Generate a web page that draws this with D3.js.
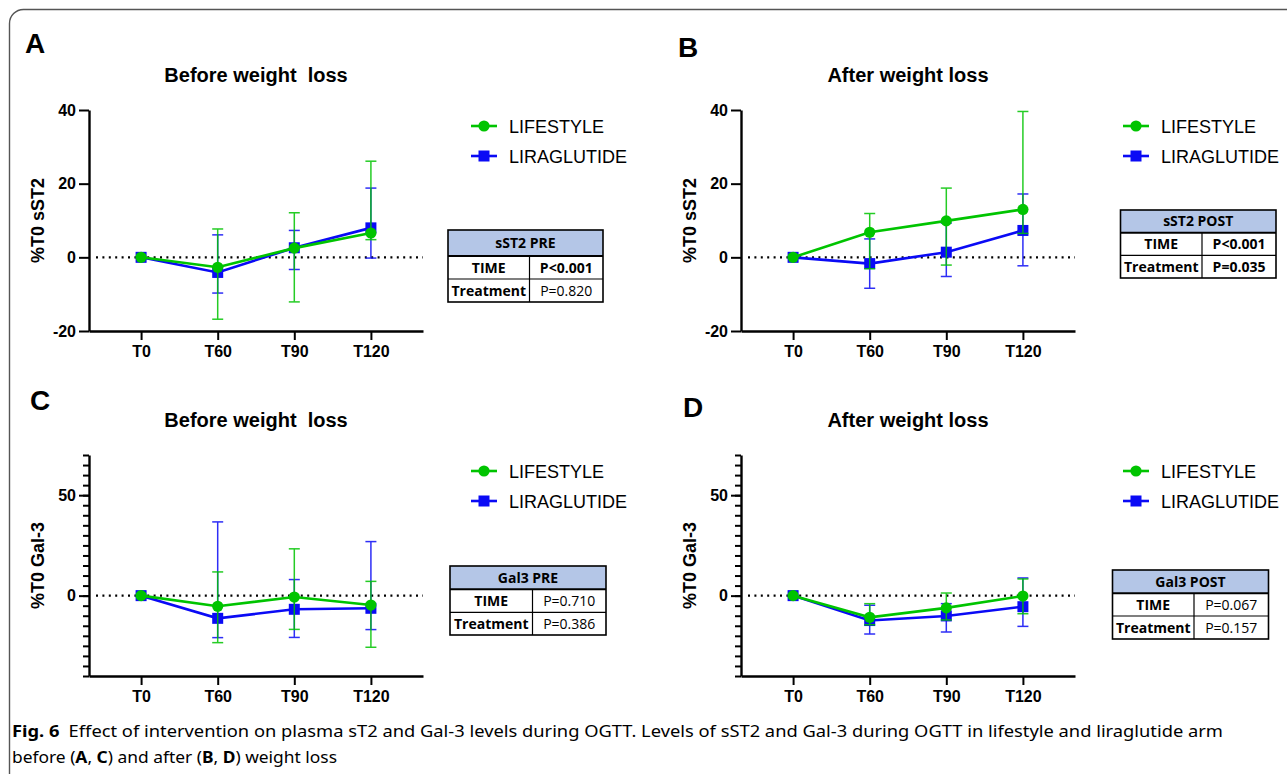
<!DOCTYPE html>
<html>
<head>
<meta charset="utf-8">
<script src="https://cdnjs.cloudflare.com/ajax/libs/d3/7.8.5/d3.min.js"></script>
<style>
  body { margin: 0; background: #fff; }
  svg { display: block; }
</style>
</head>
<body>
<svg id="fig" width="1287" height="774"></svg>
<script>
"use strict";

// ---- data ----
var timepoints = ["T0", "T60", "T90", "T120"];
var seriesNames = ["LIFESTYLE", "LIRAGLUTIDE"];

// A: sST2 before weight loss (% of T0)
var sst2PreLife     = [0, -2.7, 2.5, 6.6];
var sst2PreLifeHi   = [0, 7.7, 12.1, 26.1];
var sst2PreLifeLo   = [0, -16.8, -12.1, 4.8];
var sst2PreLira     = [0, -4.1, 2.6, 8.0];
var sst2PreLiraHi   = [0, 6.1, 7.3, 18.8];
var sst2PreLiraLo   = [0, -9.7, -3.3, -0.2];

// B: sST2 after weight loss
var sst2PostLife    = [0, 6.8, 9.9, 13.0];
var sst2PostLifeHi  = [0, 11.9, 18.8, 39.6];
var sst2PostLifeLo  = [0, -3.1, -2.1, 6.5];
var sst2PostLira    = [0, -1.7, 1.4, 7.3];
var sst2PostLiraHi  = [0, 5.0, 9.3, 17.2];
var sst2PostLiraLo  = [0, -8.4, -5.2, -2.3];

// C: Gal-3 before weight loss
var gal3PreLife     = [0, -5.3, -0.7, -4.7];
var gal3PreLifeHi   = [0, 11.8, 23.3, 7.1];
var gal3PreLifeLo   = [0, -23.4, -16.8, -25.7];
var gal3PreLira     = [0, -11.3, -6.8, -6.3];
var gal3PreLiraHi   = [0, 36.7, 8.0, 26.9];
var gal3PreLiraLo   = [0, -20.9, -20.8, -16.9];

// D: Gal-3 after weight loss
var gal3PostLife    = [0, -10.8, -6.1, -0.2];
var gal3PostLifeHi  = [0, -4.0, 1.3, 8.3];
var gal3PostLifeLo  = [0, -14.5, -12.1, -9.0];
var gal3PostLira    = [0, -12.4, -10.1, -5.5];
var gal3PostLiraHi  = [0, -4.8, -4.0, 8.8];
var gal3PostLiraLo  = [0, -19.1, -18.1, -15.3];

var sst2Ticks = [-20, 0, 20, 40];
var gal3Ticks = [0, 50];

// stats tables: [row label, p value, bold?]
var sst2PreStats  = [["TIME", "P<0.001", true], ["Treatment", "P=0.820", false]];
var sst2PostStats = [["TIME", "P<0.001", true], ["Treatment", "P=0.035", true]];
var gal3PreStats  = [["TIME", "P=0.710", false], ["Treatment", "P=0.386", false]];
var gal3PostStats = [["TIME", "P=0.067", false], ["Treatment", "P=0.157", false]];

var colors = ["#00c400", "#0a0af5"];
var font = "'Liberation Sans', Arial, sans-serif";
var tableFont = "'Open Sans', 'Noto Sans', sans-serif";

var svg = d3.select("#fig");

// figure frame (rounded, runs off the right/bottom)
svg.append("rect")
    .attr("x", 9.5).attr("y", 9.5)
    .attr("width", 1320).attr("height", 800)
    .attr("rx", 14)
    .attr("fill", "none")
    .attr("stroke", "#555")
    .attr("stroke-width", 1.4);

function pack(m, hi, lo) {
    return timepoints.map(function(t, i) { return {t: t, v: m[i], hi: hi[i], lo: lo[i]}; });
}

var panels = [
    {letter: "A", lx: 25, ly: 53, dx: 0, dy: 0, title: "Before weight\u00a0 loss", ylab: "%T0 sST2",
     domain: [-20, 40], ticks: sst2Ticks, minor: null,
     series: [pack(sst2PreLife, sst2PreLifeHi, sst2PreLifeLo), pack(sst2PreLira, sst2PreLiraHi, sst2PreLiraLo)],
     table: {name: "sST2 PRE", x: 448, y: 230, w: 155, c: 81.5, rows: [26, 23, 23], stats: sst2PreStats}},
    {letter: "B", lx: 678, ly: 57, dx: 652, dy: 0, title: "After weight loss", ylab: "%T0 sST2",
     domain: [-20, 40], ticks: sst2Ticks, minor: null,
     series: [pack(sst2PostLife, sst2PostLifeHi, sst2PostLifeLo), pack(sst2PostLira, sst2PostLiraHi, sst2PostLiraLo)],
     table: {name: "sST2 POST", x: 1120.5, y: 210, w: 155.5, c: 81.5, rows: [22.7, 22.7, 22.6], stats: sst2PostStats}},
    {letter: "C", lx: 30, ly: 410, dx: 0, dy: 345, title: "Before weight\u00a0 loss", ylab: "%T0 Gal-3",
     domain: [-40, 70], ticks: gal3Ticks, minor: 5,
     series: [pack(gal3PreLife, gal3PreLifeHi, gal3PreLifeLo), pack(gal3PreLira, gal3PreLiraHi, gal3PreLiraLo)],
     table: {name: "Gal3 PRE", x: 450, y: 566, w: 156, c: 82.5, rows: [23.3, 23, 22.7], stats: gal3PreStats}},
    {letter: "D", lx: 683, ly: 417, dx: 652, dy: 345, title: "After weight loss", ylab: "%T0 Gal-3",
     domain: [-40, 70], ticks: gal3Ticks, minor: 5,
     series: [pack(gal3PostLife, gal3PostLifeHi, gal3PostLifeLo), pack(gal3PostLira, gal3PostLiraHi, gal3PostLiraLo)],
     table: {name: "Gal3 POST", x: 1112.5, y: 570, w: 156, c: 81.5, rows: [23.3, 22.7, 23], stats: gal3PostStats}}
];

panels.forEach(function(p) {
    var g = svg.append("g").attr("transform", "translate(" + p.dx + "," + p.dy + ")");

    var x = d3.scalePoint().domain(timepoints).range([89, 423]).padding(0.68);
    var y = d3.scaleLinear().domain(p.domain).range([331, 110]);

    svg.append("text")
        .attr("x", p.lx).attr("y", p.ly)
        .attr("font-family", font).attr("font-weight", "bold").attr("font-size", 28)
        .text(p.letter);

    g.append("text")
        .attr("x", 256).attr("y", 82)
        .attr("text-anchor", "middle")
        .attr("font-family", font).attr("font-weight", "bold").attr("font-size", 20)
        .text(p.title);

    g.append("text")
        .attr("transform", "translate(44,220.5) rotate(-90)")
        .attr("text-anchor", "middle")
        .attr("font-family", font).attr("font-weight", "bold").attr("font-size", 18)
        .text(p.ylab);

    // zero reference
    g.append("line")
        .attr("x1", 96).attr("x2", 423)
        .attr("y1", y(0)).attr("y2", y(0))
        .attr("stroke", "#000").attr("stroke-width", 2.2)
        .attr("stroke-dasharray", "2,4.4");

    if (p.minor) {
        g.append("g")
            .attr("transform", "translate(89,0)")
            .call(d3.axisLeft(y).tickValues(d3.range(p.domain[0], p.domain[1] + 1, p.minor)).tickSize(6).tickSizeOuter(0).tickFormat(""))
            .call(function(a) {
                a.select(".domain").remove();
                a.selectAll("line").attr("stroke-width", 2);
            });
    }

    var yAxis = g.append("g")
        .attr("transform", "translate(89,0)")
        .call(d3.axisLeft(y).tickValues(p.ticks).tickSize(10).tickSizeOuter(0).tickPadding(3)
            .tickFormat(function(d) { return String(d); }));
    var xAxis = g.append("g")
        .attr("transform", "translate(0,331)")
        .call(d3.axisBottom(x).tickSize(9).tickSizeOuter(0).tickPadding(6));

    [yAxis, xAxis].forEach(function(a) {
        a.select(".domain").attr("stroke-width", 2.4);
        a.selectAll(".tick line").attr("stroke-width", 2);
        a.selectAll("text")
            .attr("font-family", font).attr("font-weight", "bold").attr("font-size", 16)
            .attr("fill", "#000");
    });

    var line = d3.line().x(function(d) { return x(d.t); }).y(function(d) { return y(d.v); });

    // draw liraglutide first, lifestyle on top
    [1, 0].forEach(function(k) {
        var data = p.series[k];
        var c = colors[k];
        var eb = g.append("g").attr("stroke", c).attr("stroke-width", 1.5).attr("opacity", 0.85);
        data.filter(function(d) { return d.hi !== d.lo; }).forEach(function(d) {
            var cx = x(d.t);
            eb.append("line").attr("x1", cx).attr("x2", cx).attr("y1", y(d.hi)).attr("y2", y(d.lo));
            eb.append("line").attr("x1", cx - 5.5).attr("x2", cx + 5.5).attr("y1", y(d.hi)).attr("y2", y(d.hi));
            eb.append("line").attr("x1", cx - 5.5).attr("x2", cx + 5.5).attr("y1", y(d.lo)).attr("y2", y(d.lo));
        });
        g.append("path").datum(data)
            .attr("d", line)
            .attr("fill", "none").attr("stroke", c).attr("stroke-width", 2.6);
        if (k === 0) {
            g.selectAll(null).data(data).enter().append("circle")
                .attr("cx", function(d) { return x(d.t); })
                .attr("cy", function(d) { return y(d.v); })
                .attr("r", 5.6).attr("fill", c);
        } else {
            g.selectAll(null).data(data).enter().append("rect")
                .attr("x", function(d) { return x(d.t) - 5.5; })
                .attr("y", function(d) { return y(d.v) - 5.5; })
                .attr("width", 11).attr("height", 11).attr("fill", c);
        }
    });

    // legend
    seriesNames.forEach(function(name, k) {
        var ly = 126 + k * 30;
        var lg = g.append("g");
        lg.append("line").attr("x1", 471).attr("x2", 497).attr("y1", ly).attr("y2", ly)
            .attr("stroke", colors[k]).attr("stroke-width", 2.6);
        if (k === 0) {
            lg.append("circle").attr("cx", 484).attr("cy", ly).attr("r", 5.6).attr("fill", colors[k]);
        } else {
            lg.append("rect").attr("x", 478.5).attr("y", ly - 5.5).attr("width", 11).attr("height", 11).attr("fill", colors[k]);
        }
        lg.append("text").attr("x", 509).attr("y", ly + 6.5)
            .attr("font-family", font).attr("font-size", 18)
            .text(name);
    });

    // stats table
    var t = p.table;
    var tg = svg.append("g");
    var y0 = t.y, y1 = y0 + t.rows[0], y2 = y1 + t.rows[1], y3 = y2 + t.rows[2];
    tg.append("rect").attr("x", t.x).attr("y", y0).attr("width", t.w).attr("height", t.rows[0])
        .attr("fill", "#b4c6e7");
    tg.append("rect").attr("x", t.x).attr("y", y0).attr("width", t.w).attr("height", y3 - y0)
        .attr("fill", "none").attr("stroke", "#000").attr("stroke-width", 1.6);
    tg.append("line").attr("x1", t.x).attr("x2", t.x + t.w).attr("y1", y1).attr("y2", y1)
        .attr("stroke", "#000").attr("stroke-width", 2);
    tg.append("line").attr("x1", t.x).attr("x2", t.x + t.w).attr("y1", y2).attr("y2", y2)
        .attr("stroke", "#000").attr("stroke-width", 1.2);
    tg.append("line").attr("x1", t.x + t.c).attr("x2", t.x + t.c).attr("y1", y1).attr("y2", y3)
        .attr("stroke", "#000").attr("stroke-width", 1.2);
    tg.append("text")
        .attr("x", t.x + t.w / 2).attr("y", (y0 + y1) / 2 + 5)
        .attr("text-anchor", "middle")
        .attr("font-family", tableFont).attr("font-weight", "bold").attr("font-size", 14)
        .text(t.name);
    t.stats.forEach(function(r, i) {
        var mid = i === 0 ? (y1 + y2) / 2 : (y2 + y3) / 2;
        tg.append("text")
            .attr("x", t.x + t.c / 2).attr("y", mid + 5)
            .attr("text-anchor", "middle")
            .attr("font-family", tableFont).attr("font-weight", "bold").attr("font-size", 14)
            .text(r[0]);
        tg.append("text")
            .attr("x", t.x + t.c + (t.w - t.c) / 2).attr("y", mid + 5)
            .attr("text-anchor", "middle")
            .attr("font-family", tableFont).attr("font-weight", r[2] ? "bold" : "normal").attr("font-size", 14)
            .text(r[1]);
    });
});

// caption
var cap1 = svg.append("text")
    .attr("x", 12).attr("y", 737)
    .attr("font-family", "'Noto Sans', sans-serif").attr("font-size", 16.5)
    .attr("textLength", 1211).attr("lengthAdjust", "spacingAndGlyphs");
cap1.append("tspan").attr("font-weight", "bold").text("Fig. 6");
cap1.append("tspan").text("\u2002Effect of intervention on plasma sT2 and Gal-3 levels during OGTT. Levels of sST2 and Gal-3 during OGTT in lifestyle and liraglutide arm");

var cap2 = svg.append("text")
    .attr("x", 12).attr("y", 763)
    .attr("font-family", "'Noto Sans', sans-serif").attr("font-size", 16.5)
    .attr("textLength", 325).attr("lengthAdjust", "spacingAndGlyphs");
cap2.append("tspan").text("before (");
cap2.append("tspan").attr("font-weight", "bold").text("A");
cap2.append("tspan").text(", ");
cap2.append("tspan").attr("font-weight", "bold").text("C");
cap2.append("tspan").text(") and after (");
cap2.append("tspan").attr("font-weight", "bold").text("B");
cap2.append("tspan").text(", ");
cap2.append("tspan").attr("font-weight", "bold").text("D");
cap2.append("tspan").text(") weight loss");
</script>
</body>
</html>
